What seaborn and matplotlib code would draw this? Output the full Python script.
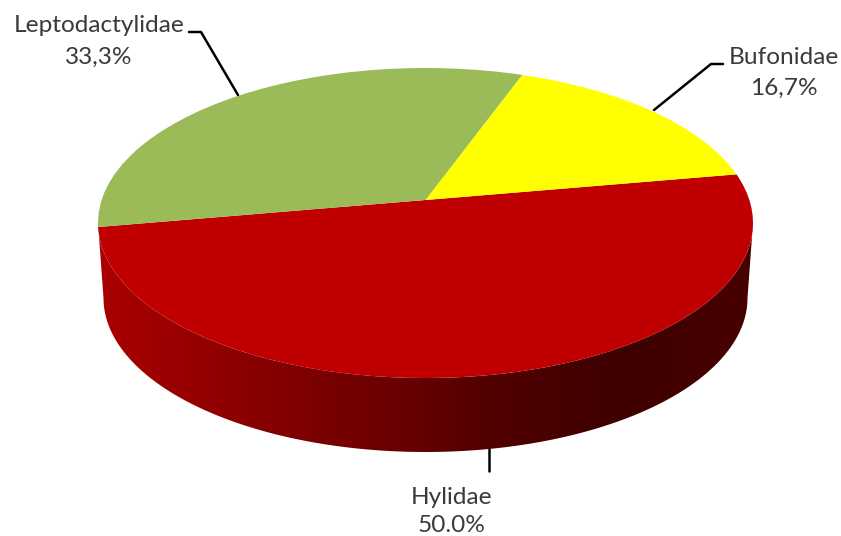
import numpy as np
import matplotlib
matplotlib.use("Agg")
import matplotlib.pyplot as plt
import seaborn as sns
from matplotlib.colors import LinearSegmentedColormap
from matplotlib.patches import Polygon
from matplotlib.transforms import Transform

families = ["Hylidae", "Bufonidae", "Leptodactylidae"]
shares = [50.0, 16.7, 33.3]
share_labels = ["50.0%", "16,7%", "33,3%"]
colors = ["#C00000", "#FFFF00", "#9BBB59"]
wall_stops = ["#AA0000", "#8E0000", "#720000", "#520000", "#3E0000", "#480000"]

sns.set_theme(style="white")
plt.rcParams["font.family"] = ["Lato", "DejaVu Sans"]

CX, CY, RX, RY = 425.5, 223.0, 327.5, 155.0
APEX_SHIFT = 23.0 / RY
DEPTH_CY, DEPTH_RX, DEPTH_RY = 298.0, 322.0, 154.0


class TiltedDisc(Transform):
    """Perspective map of the unit pie onto the tilted ellipse, in pixel data units."""
    input_dims = 2
    output_dims = 2
    is_separable = False
    has_inverse = False

    def transform_non_affine(self, values):
        values = np.asarray(values, float)
        u, v = values[:, 0], values[:, 1]
        a = APEX_SHIFT
        d = 1 + a * v
        return np.column_stack([CX + RX * u * np.sqrt(1 - a * a) / d,
                                CY - RY * (v + a) / d])


fig = plt.figure(figsize=(8.41, 5.36), dpi=100, facecolor="white")
ax = fig.add_axes([0, 0, 1, 1])

wedges, _ = ax.pie(shares, colors=colors, startangle=190.0, counterclock=True, radius=1,
                   wedgeprops={"linewidth": 0, "zorder": 3})
tilt = TiltedDisc()
for w in wedges:
    w.set_transform(tilt + ax.transData)

ax.set_aspect("auto")
ax.set_xlim(0, 841)
ax.set_ylim(536, 0)
ax.axis("off")

# side wall
t = np.linspace(np.pi, 2 * np.pi, 200)
upper = np.column_stack([CX + RX * np.cos(t), CY - RY * np.sin(t)])
lower = np.column_stack([CX + DEPTH_RX * np.cos(t), DEPTH_CY - DEPTH_RY * np.sin(t)])
left_side = np.array([[CX - RX, CY]])
wall = np.vstack([upper, lower[::-1], left_side])
cmap = LinearSegmentedColormap.from_list("wall", wall_stops)
img = ax.imshow(np.linspace(0, 1, 400)[None, :], cmap=cmap, aspect="auto",
                extent=(CX - RX, CX + RX, 455, 220), zorder=2)
patch = Polygon(wall, closed=True, transform=ax.transData, facecolor="none", edgecolor="none")
ax.add_patch(patch)
img.set_clip_path(patch)
ax.set_xlim(0, 841)
ax.set_ylim(536, 0)

# labels and leader lines
txt = "#3a3a3a"
pos = {"Hylidae": (452, 497, 526), "Bufonidae": (784, 57, 88), "Leptodactylidae": (99, 26, 57)}
for name, lab in zip(families, share_labels):
    x, y1, y2 = pos[name]
    ax.text(x, y1, name, ha="center", va="center", fontsize=17.6, color=txt, zorder=5)
    ax.text(x, y2, lab, ha="center", va="center", fontsize=17.6, color=txt, zorder=5)

ax.plot([189, 201, 238], [32, 32, 95], color="black", lw=1.8, zorder=4)
ax.plot([654, 711, 723], [110, 64, 64], color="black", lw=1.8, zorder=4)
ax.plot([489, 489], [449, 471], color="black", lw=1.8, zorder=4)

fig.savefig("out.png", dpi=100, facecolor="white")
